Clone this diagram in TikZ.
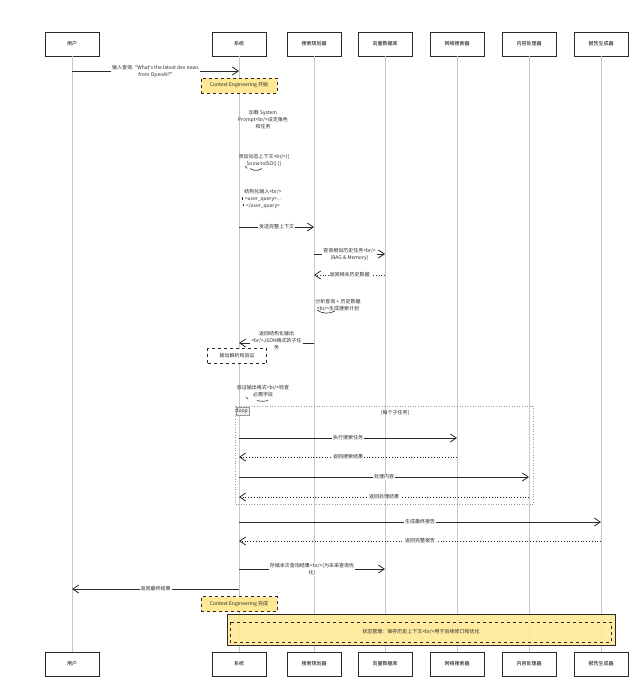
\documentclass[tikz,border=0pt]{standalone}
\usepackage{fontspec}
\setmainfont{Noto Sans CJK SC}[Ligatures=TeXOff]
\usetikzlibrary{arrows.meta}
\definecolor{noteY}{HTML}{FFE996}
\definecolor{ink}{HTML}{2A2A2A}
\begin{document}
\begin{tikzpicture}[x=1pt,y=-1pt,
  font=\fontsize{5}{7}\selectfont,
  part/.style={draw=ink, line width=0.8pt, fill=white, minimum width=54pt, minimum height=24pt, inner sep=0pt},
  life/.style={draw=black!22, line width=0.9pt},
  msg/.style={draw=ink, line width=0.8pt, -{Straight Barb[length=6pt,width=8pt,line width=0.8pt]}},
  ret/.style={msg, dotted},
  lbl/.style={fill=white, inner sep=1pt, align=center, text=ink},
  selftxt/.style={inner sep=1pt, align=center, text=ink},
  note/.style={draw=ink, dashed, line width=0.8pt, fill=noteY, inner sep=1pt, text=ink},
  arcl/.style={draw=ink, line width=0.6pt}]
\useasboundingbox (0,0) rectangle (632,680);

% participants
\foreach \n/\x/\t in {usr/72/用户, sys/239/系统, plan/314/搜索规划器, vec/385/向量数据库, web/457/网络搜索器, proc/529/内容处理器, rep/601/报告生成器}{
  \node[part] (\n T) at (\x,44) {\t};
  \node[part] (\n B) at (\x,664) {\t};
  \draw[life] (\n T.south) -- (\n B.north);
}

% message 1
\draw[msg] (usrT |- 0,71) -- (sysT |- 0,71)
  node[midway,lbl]{输入查询: "What's the latest dev news\\from OpenAI?"};
\node[note, minimum width=76pt, minimum height=15pt] (n1) at (239,85.5) {Context Engineering 开始};

% self messages on system
\node[selftxt] (s1) at (263,120) {加载 System\\Prompt<br/>设定角色\\和任务};
\node[selftxt] (s2) at (264,160) {添加动态上下文<br/>\{\{\\\$now.toISO() \}\}};
\draw[arcl] (245,166) -- (247,168.5);
\draw[arcl] (250,168.5) .. controls (254,171) and (258,171) .. (262,168.5);
\node[selftxt] (s3) at (263,199) {结构化输入<br/>\\<user\_query>...\\</user\_query>};
\draw[arcl] (242,197) -- (242,200);
\draw[arcl] (243,204) -- (243,206);

\draw[msg] (sysT |- 0,227) -- (planT |- 0,227) node[midway,lbl]{发送完整上下文};
\draw[msg] (planT |- 0,254) -- (vecT |- 0,254) node[midway,lbl]{查询相似历史任务<br/>\\(RAG \& Memory)};
\draw[ret] (vecT |- 0,275) -- (planT |- 0,275) node[midway,lbl]{返回相关历史数据};

\node[selftxt] (s4) at (338,305.5) {分析查询 + 历史数据\\<br/>生成搜索计划};
\draw[arcl] (317,310) .. controls (322,314) and (330,314) .. (335,311);

\draw[msg] (planT |- 0,343) -- (sysT |- 0,343) node[midway,lbl,yshift=2pt]{返回结构化输出\\<br/>JSON格式的子任\\务};
\node[note, fill=white, minimum width=59pt, minimum height=15pt] (n2) at (237,356) {输出解析和验证};

\node[selftxt] (s5) at (263,391.5) {验证输出格式<br/>检查\\必需字段};
\draw[arcl] (246,397) -- (248,399);
\draw[arcl] (257,400.5) .. controls (260,401.5) and (265,401.5) .. (268,400.5);

% loop frame
\draw[draw=black!40, dotted, line width=0.6pt] (235,406) rectangle (533,504);
\node[draw=black!40, fill=black!7, inner sep=1.5pt, anchor=north west, text=ink] (lp) at (235.5,406.5) {loop};
\node[text=ink] (lc) at (395,413) {[每个子任务]};

\draw[msg] (sysT |- 0,438) -- (webT |- 0,438) node[midway,lbl]{执行搜索任务};
\draw[ret] (webT |- 0,457) -- (sysT |- 0,457) node[midway,lbl]{返回搜索结果};
\draw[msg] (sysT |- 0,477) -- (procT |- 0,477) node[midway,lbl]{处理内容};
\draw[ret] (procT |- 0,497) -- (sysT |- 0,497) node[midway,lbl]{返回处理结果};

\draw[msg] (sysT |- 0,522) -- (repT |- 0,522) node[midway,lbl]{生成最终报告};
\draw[ret] (repT |- 0,541) -- (sysT |- 0,541) node[midway,lbl]{返回完整报告};
\draw[msg] (sysT |- 0,569) -- (vecT |- 0,569) node[midway,lbl]{存储本次查询结果<br/>(为未来查询优\\化)};
\draw[msg] (sysT |- 0,589) -- (usrT |- 0,589) node[midway,lbl]{返回最终结果};

\node[note, minimum width=76pt, minimum height=15pt] (n3) at (239,604) {Context Engineering 完成};

% state note
\node[draw=ink, line width=0.8pt, fill=noteY, fill opacity=0.9, minimum width=388pt, minimum height=31pt, inner sep=0pt] (n4) at (421,629.5) {};
\draw[ink, dashed, line width=0.8pt] (230,622) rectangle (611,642);
\node[text=ink] (n4t) at (421,632) {状态管理：保存历史上下文<br/>用于后续修订和优化};
\end{tikzpicture}
\end{document}
